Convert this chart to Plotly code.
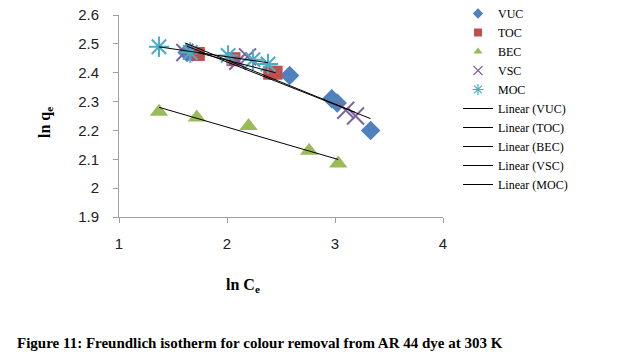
import numpy as np
import plotly.graph_objects as go

# Data
vuc_x = [1.63, 2.58, 2.97, 3.02, 3.33]
vuc_y = [2.47, 2.39, 2.31, 2.295, 2.20]
toc_x = [1.73, 2.06, 2.40, 2.45]
toc_y = [2.465, 2.447, 2.40, 2.40]
bec_x = [1.37, 1.72, 2.20, 2.76, 3.03]
bec_y = [2.265, 2.245, 2.215, 2.13, 2.085]
vsc_x = [1.61, 2.10, 2.19, 3.10, 3.19]
vsc_y = [2.47, 2.44, 2.455, 2.27, 2.25]
moc_x = [1.37, 1.66, 2.01, 2.24, 2.38]
moc_y = [2.49, 2.47, 2.46, 2.445, 2.43]

names = ["VUC", "TOC", "BEC", "VSC", "MOC"]
xs = [vuc_x, toc_x, bec_x, vsc_x, moc_x]
ys = [vuc_y, toc_y, bec_y, vsc_y, moc_y]
colors = ["#4F81BD", "#C0504D", "#9BBB59", "#8064A2", "#4BACC6"]
symbols = ["diamond", "square", "triangle-up", "x-thin-open", "asterisk-open"]
sizes = [15, 14, 16, 17, 17]
legend_sizes = [8, 8, 8, 9, 9]

W, H = 617, 360
L, R, T, B = 119, 174, 15, 143
pw, ph = W - L - R, H - T - B
def px(xp):
    return (xp - L) / pw
def py(yp):
    return (H - B - yp) / ph

fig = go.Figure()
for n, x, y, c, s, sz, lsz in zip(names, xs, ys, colors, symbols, sizes, legend_sizes):
    openm = "open" in s
    line = dict(width=2, color=c) if openm else dict(width=0)
    fig.add_trace(go.Scatter(x=x, y=y, mode="markers", name=n, showlegend=False,
                             legendgroup=n,
                             marker=dict(symbol=s, size=sz, color=c, line=line)))
    fig.add_trace(go.Scatter(x=[None], y=[None], mode="markers", name=n, legendgroup=n,
                             marker=dict(symbol=s, size=lsz, color=c,
                                         line=dict(width=1.2, color=c) if openm else dict(width=0))))

for n, x, y in zip(names, xs, ys):
    k, b = np.polyfit(x, y, 1)
    xe = np.array([min(x), max(x)])
    fig.add_trace(go.Scatter(x=xe, y=k * xe + b, mode="lines", name=f"Linear ({n})",
                             line=dict(color="black", width=1)))

axis_common = dict(showgrid=False, zeroline=False, showline=True, linecolor="#A0A0A0",
                   linewidth=1, ticks="outside", tickcolor="#A0A0A0", ticklen=5,
                   tickfont=dict(family="Liberation Sans", size=15, color="#222"))
fig.update_xaxes(range=[1, 4], dtick=1, ticklabelstandoff=8, **axis_common)
fig.update_yaxes(range=[1.9, 2.6], dtick=0.1, ticklabelstandoff=11, **axis_common)

fig.add_annotation(text="<b>ln C<sub>e</sub></b>", x=px(243), y=py(285), xref="paper", yref="paper",
                   xanchor="center", yanchor="middle", showarrow=False,
                   font=dict(family="Liberation Serif", size=16, color="black"))
fig.add_annotation(text="<b>ln q<sub>e</sub></b>", textangle=-90, x=px(45), y=py(123),
                   xref="paper", yref="paper", xanchor="center", yanchor="middle",
                   showarrow=False, font=dict(family="Liberation Serif", size=16, color="black"))
fig.add_annotation(text="<b>Figure 11: Freundlich isotherm for colour removal from AR 44 dye at 303 K</b>",
                   x=px(260), y=py(343), xref="paper", yref="paper",
                   xanchor="center", yanchor="middle", showarrow=False,
                   font=dict(family="Liberation Serif", size=15, color="black"))

fig.update_layout(
    width=W, height=H, margin=dict(l=L, r=R, t=T, b=B, autoexpand=False),
    paper_bgcolor="white", plot_bgcolor="white", showlegend=True,
    legend=dict(x=px(458), y=py(-1), xanchor="left", yanchor="top",
                font=dict(family="Liberation Serif", size=12, color="black"),
                itemsizing="trace", tracegroupgap=0, bgcolor="rgba(0,0,0,0)",
                maxheight=360),
)
fig.write_html("out.html")
